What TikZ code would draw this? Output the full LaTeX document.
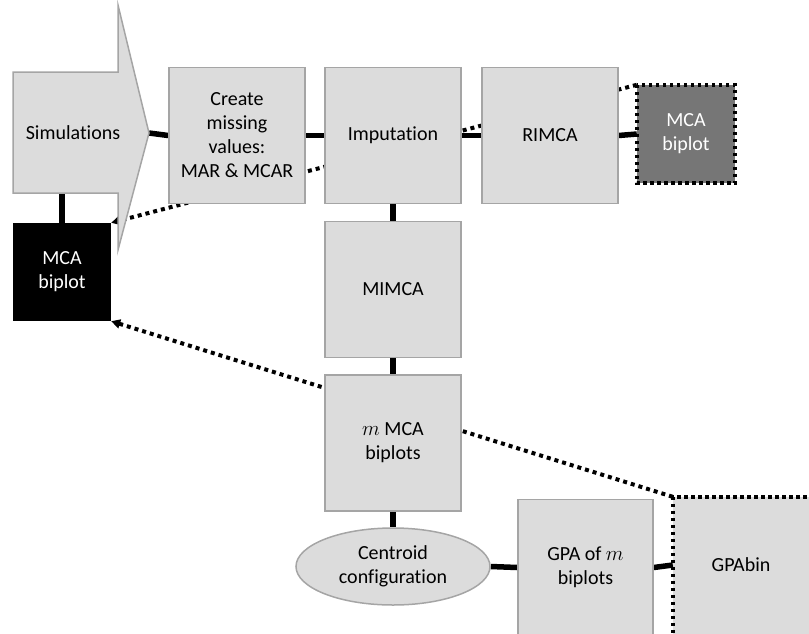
\documentclass[tikz,border=0pt]{standalone}
\usepackage{fontspec}
\setmainfont[Ligatures=NoCommon]{Carlito}
\usetikzlibrary{shapes.geometric,arrows.meta,backgrounds}
\definecolor{boxfill}{HTML}{DCDCDC}
\definecolor{boxline}{HTML}{A5A5A5}
\definecolor{darkbox}{HTML}{767676}
\begin{document}
\begin{tikzpicture}[x=1pt,y=-1pt,
  font=\fontsize{20}{24}\selectfont,
  stage/.style={draw=boxline,line width=1.5pt,fill=boxfill,align=center,
    inner sep=0pt,minimum width=136pt,minimum height=136pt},
  plotbox/.style={align=center,inner sep=0pt,minimum width=98pt,minimum height=98pt,text=white},
  dotframe/.style={draw=black,line width=3.5pt,dash pattern=on 3.5pt off 3.5pt},
  link/.style={line width=5.5pt},
  dotlink/.style={line width=4pt,dash pattern=on 4pt off 4pt},
  tip/.style={-{Triangle[length=9pt,width=9pt]}}
]
\clip (0,0) rectangle (809,633);
\useasboundingbox (0,0) rectangle (809,633);

% simulation arrow
\coordinate (simtip) at (149,133);
\coordinate (simbase) at (62,193);
\draw[draw=boxline,line width=1.5pt,fill=boxfill]
  (13,72) -- (118,72) -- (118,5) -- (simtip) -- (118,250) -- (118,193) -- (13,193) -- cycle;
\node (sim) at (73,133) {Simulations};

% processing stages
\node[stage] (create) at (237,135.5) {Create\\missing\\values:\\MAR \& MCAR};
\node[stage] (imp) at (393,135.5) {Imputation};
\node[stage] (rimca) at (550,135.5) {RIMCA};
\node[stage] (mimca) at (393,289.5) {MIMCA};
\node[stage] (mmca) at (393,443) {$m$ MCA\\biplots};
\node[draw=boxline,line width=1.5pt,fill=boxfill,ellipse,align=center,inner sep=0pt,
  minimum width=194pt,minimum height=77pt] (cent) at (393,566.5) {Centroid\\configuration};
\node[stage,minimum width=135pt] (gpa) at (585.5,567.5) {GPA of $m$\\biplots};
\node[inner sep=0pt,minimum width=136pt,minimum height=136pt] (gpabin) at (741,565) {GPAbin};

% biplot outputs
\node[plotbox,fill=darkbox] (rbip) at (686,134) {MCA\\biplot};
\draw[dotframe] (rbip.north west) rectangle (rbip.south east);
\node[plotbox,fill=black] (bip) at (62,272) {MCA\\biplot};

\begin{scope}[on background layer]
  % GPAbin frame runs past the right and bottom edges
  \draw[dotframe,fill=boxfill] (gpabin.north west) rectangle +(170,170);
  \draw[link] (simtip) -- (create.west);
  \draw[link] (create.east) -- (imp.west);
  \draw[link] (imp.east) -- (rimca.west);
  \draw[link] (rimca.east) -- (rbip.west);
  \draw[link] (simbase) -- (bip.north);
  \draw[link] (imp.south) -- (mimca.north);
  \draw[link] (mimca.south) -- (mmca.north);
  \draw[link] (mmca.south) -- (cent.north);
  \draw[link] (cent.east) -- (gpa.west);
  \draw[link] (gpa.east) -- (gpabin.west);
  \draw[dotlink,tip] (rbip.north west) -- (bip.north east);
  \draw[dotlink,tip] (gpabin.north west) -- (bip.south east);
\end{scope}
\end{tikzpicture}
\end{document}
